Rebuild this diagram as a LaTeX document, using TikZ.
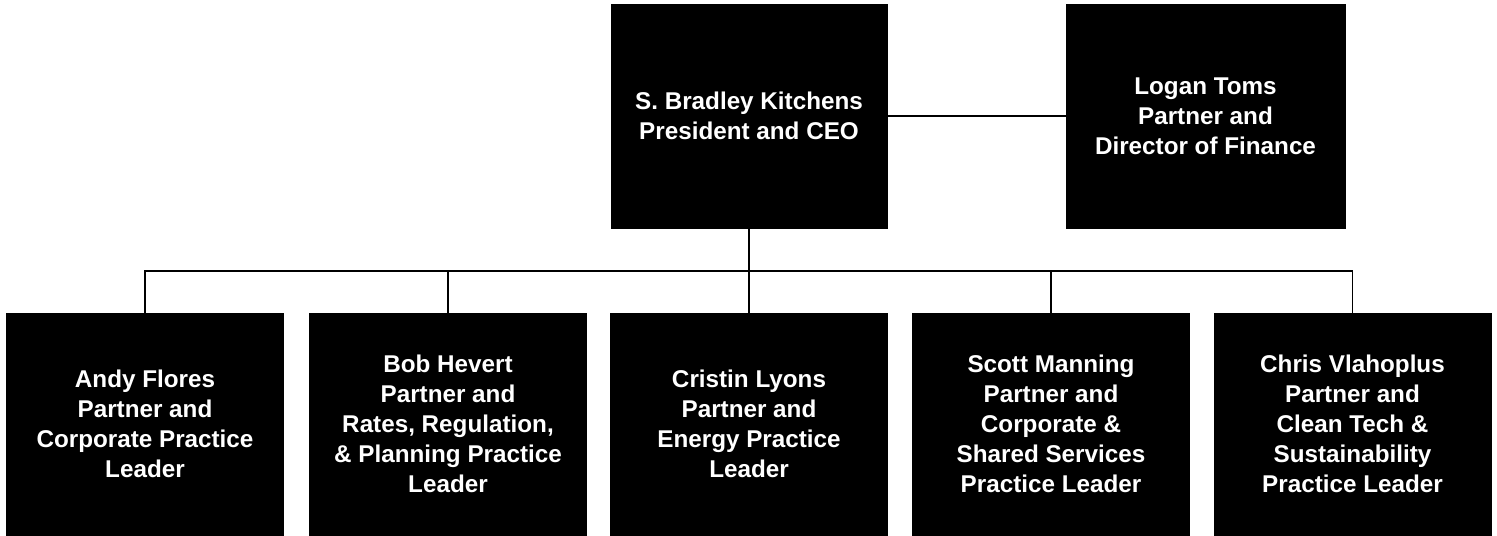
\documentclass[tikz,border=0pt]{standalone}
\usepackage{fontspec}
\setmainfont{Liberation Sans}
\begin{document}
\begin{tikzpicture}[x=0.02cm,y=-0.02cm,
  orgbox/.style={draw=black,fill=black,text=white,align=center,inner sep=0pt,
    font=\bfseries\fontsize{13.8}{17.1}\selectfont},
  topbox/.style={orgbox,minimum width=5.52cm,minimum height=4.48cm},
  lowbox/.style={orgbox,minimum width=5.54cm,minimum height=4.44cm},
  conn/.style={draw=black,line width=1.1pt}]
\useasboundingbox (0,0) rectangle (1497,536);
\node[topbox] (ceo) at (749,116) {S. Bradley Kitchens\\President and CEO};
\node[topbox,minimum width=5.58cm] (logan) at (1205.5,116) {Logan Toms\\Partner and\\Director of Finance};
\node[lowbox] (b1) at (145,424) {Andy Flores\\Partner and\\Corporate Practice\\Leader};
\node[lowbox] (b2) at (448,424) {Bob Hevert\\Partner and\\Rates, Regulation,\\\& Planning Practice\\Leader};
\node[lowbox] (b3) at (749,424) {Cristin Lyons\\Partner and\\Energy Practice\\Leader};
\node[lowbox] (b4) at (1051,424) {Scott Manning\\Partner and\\Corporate \&\\Shared Services\\Practice Leader};
\node[lowbox] (b5) at (1352.5,424) {Chris Vlahoplus\\Partner and\\Clean Tech \&\\Sustainability\\Practice Leader};
\coordinate (bus) at (749,271);
\draw[conn] (ceo.east) -- (logan.west);
\draw[conn] (ceo.south) -- (b3.north);
\draw[conn] (b1.north) |- (bus) -| (b5.north);
\draw[conn] (b2.north) |- (bus);
\draw[conn] (b4.north) |- (bus);
\end{tikzpicture}
\end{document}
